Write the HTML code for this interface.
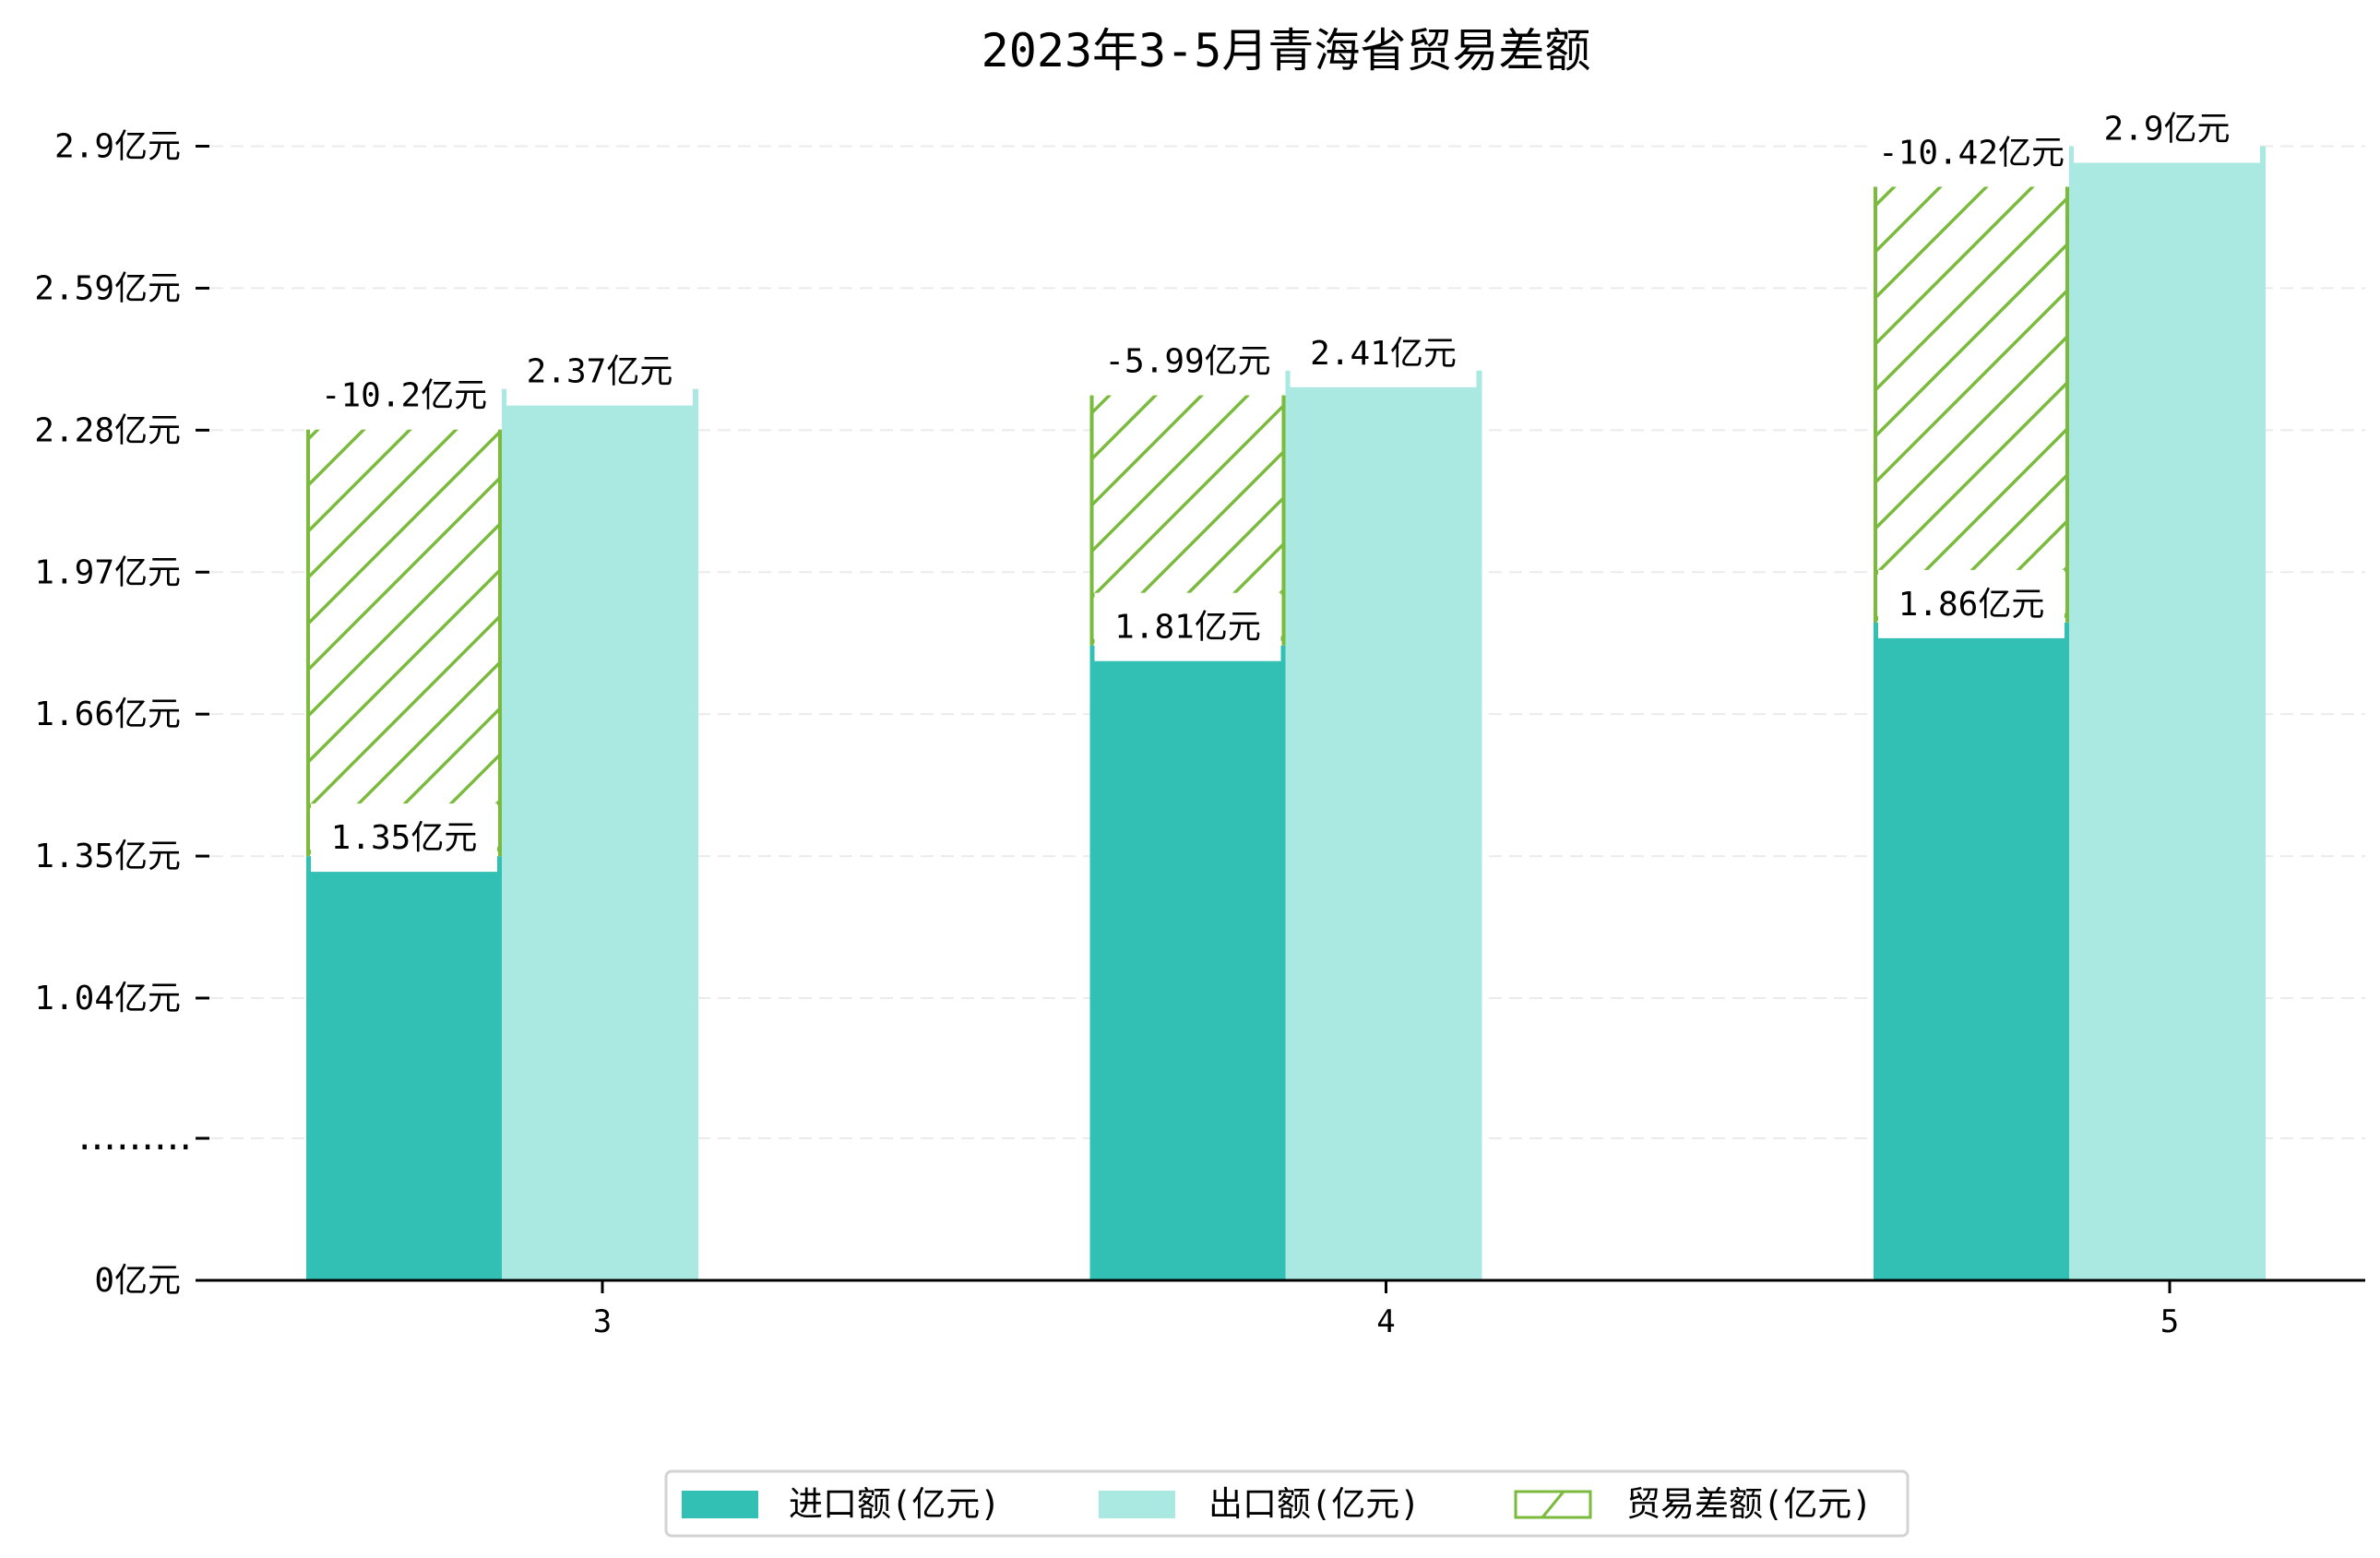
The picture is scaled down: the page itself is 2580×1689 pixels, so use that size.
<!DOCTYPE html>
<html><head><meta charset="utf-8"><style>
html,body{margin:0;padding:0;background:#fff;overflow:hidden;width:2580px;height:1689px;}
svg{display:block;}
text{font-family:"DejaVu Sans Mono","WenQuanYi Zen Hei","Noto Sans CJK SC",monospace;fill:#000;}
</style></head><body>
<svg id="chart" width="2580" height="1689" viewBox="0 0 2580 1689" xmlns="http://www.w3.org/2000/svg">
<text x="1394" y="72" font-size="50" text-anchor="middle">2023年3-5月青海省贸易差额</text>
<g id="grid"></g><g id="bars"></g><g id="labels"></g><g id="axes"></g>
<g>
<rect x="722" y="1595" width="1346" height="70" rx="6" fill="#fff" stroke="#d3d3d3" stroke-width="3"/>
<rect x="739" y="1616" width="83" height="30" fill="#32c0b4"/>
<text x="855" y="1643" font-size="37">进口额(亿元)</text>
<rect x="1191" y="1616" width="83" height="30" fill="#aae8e2"/>
<text x="1310" y="1643" font-size="37">出口额(亿元)</text>
<rect x="1643" y="1617" width="81" height="28" fill="#fff" stroke="#7aba3c" stroke-width="3"/>
<line x1="1672" y1="1645" x2="1695" y2="1617" stroke="#7aba3c" stroke-width="3"/>
<text x="1763" y="1643" font-size="37">贸易差额(亿元)</text>
</g>
</svg>
<script>
const categories = ["3","4","5"];
const importVals = [1.35,1.81,1.86];
const exportVals = [2.37,2.41,2.9];
const balanceVals = [-10.2,-5.99,-10.42];
const tickVals = [0,0.73,1.04,1.35,1.66,1.97,2.28,2.59,2.9];
const tickLabels = ["0亿元",".........","1.04亿元","1.35亿元","1.66亿元","1.97亿元","2.28亿元","2.59亿元","2.9亿元"];

const NS="http://www.w3.org/2000/svg";
const svg=document.getElementById('chart');
function mk(tag,attrs,parent){const e=document.createElementNS(NS,tag);for(const k in attrs)e.setAttribute(k,attrs[k]);parent.appendChild(e);return e;}
function y(v){ if(v>=1.04) return 1082-(v-1.04)*496.5; if(v>=0.73) return 1082-(v-0.73)/(0.31)*152 ; return 1388-v/0.73*154; }
function yt(i){ return [1388,1234,1082,928,774,622,467,313,160][i]; }
function xc(i){ return 653+i*849.5; }
const BW=212, HSCALE=0.0915;
const grid=document.getElementById('grid'),bars=document.getElementById('bars'),labels=document.getElementById('labels'),axes=document.getElementById('axes');
tickVals.forEach((v,i)=>{
  const yy=(i<2)?yt(i):y(v);
  if(i>0){const g=mk('line',{x1:228,x2:2564,y1:yy,y2:yy,stroke:'#ebebeb','stroke-width':2,'stroke-dasharray':'14,8'},grid);
  
  }
  const t=mk('line',{x1:212,x2:227,y1:yy,y2:yy,stroke:'#000','stroke-width':3},axes);
  
  
  const attrs={x:196,y:yy+12,'font-size':36,'text-anchor':'end'};
  if(i===1){attrs['letter-spacing']='-8';attrs.x=204;}
  const l=mk('text',attrs,axes);
  
  
  l.textContent=tickLabels[i];
});
const ax=mk('line',{x1:212,x2:2564,y1:1388,y2:1388,stroke:'#000','stroke-width':3},axes);


function label(x,cy,txt,w,name){
  const b=mk('rect',{x:x-w/2,y:cy-37,width:w,height:74,fill:'#fff'},labels);
  
  
  const t=mk('text',{x:x,y:cy+12,'font-size':36,'text-anchor':'middle'},labels);
  
  
  t.textContent=txt;
}
categories.forEach((c,i)=>{
  const xl=xc(i)-321, xe=xl+BW;
  const r1=mk('rect',{x:xl,y:y(importVals[i]),width:BW,height:1388-y(importVals[i]),fill:'#32c0b4'},bars);
  
  
  const r2=mk('rect',{x:xe,y:y(exportVals[i]),width:BW+1,height:1388-y(exportVals[i]),fill:'#aae8e2'},bars);
  
  
  const top=importVals[i]+Math.abs(balanceVals[i])*HSCALE;
  const y0=y(importVals[i]), y1=y(top);
  const g=mk('g',{},bars);
  
  
  const cid='clip'+i;
  const cp=mk('clipPath',{id:cid},g);
  mk('rect',{x:xl,y:y1,width:BW,height:y0-y1},cp);
  mk('rect',{x:xl,y:y1,width:BW,height:y0-y1,fill:'#fff'},g);
  const hg=mk('g',{'clip-path':'url(#'+cid+')'},g);
  for(let k=-20;k<40;k++){
    const by=y0-k*50;
    mk('line',{x1:xl,y1:by,x2:xl+BW,y2:by-BW,stroke:'#7aba3c','stroke-width':3.5},hg);
  }
  mk('line',{x1:xl+2,x2:xl+2,y1:y1,y2:y0,stroke:'#7aba3c','stroke-width':4},g);
  mk('line',{x1:xl+BW-2,x2:xl+BW-2,y1:y1,y2:y0,stroke:'#7aba3c','stroke-width':4},g);
  label(xl+BW/2,y0-20,importVals[i]+'亿元',BW-10,'import-value-'+c);
  label(xe+BW/2,y(exportVals[i])-19,exportVals[i]+'亿元',BW-10,'export-value-'+c);
  label(xl+BW/2,y1-36,balanceVals[i]+'亿元',BW,'balance-value-'+c);
  const xt=mk('line',{x1:xc(i),x2:xc(i),y1:1388,y2:1402,stroke:'#000','stroke-width':3},axes);
  
  
  const xl2=mk('text',{x:xc(i),y:1444,'font-size':34,'text-anchor':'middle'},axes);
  
  
  xl2.textContent=c;
});
</script>
</body></html>
